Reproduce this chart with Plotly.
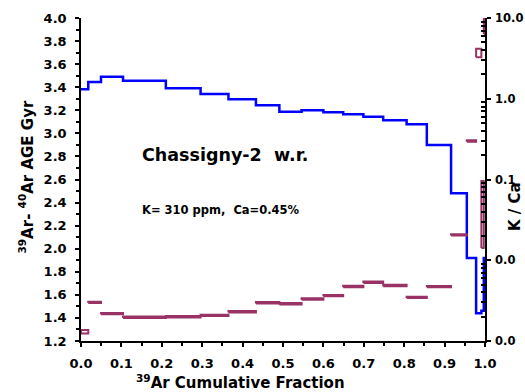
import plotly.graph_objects as go

# ---- data ----
step_bounds = [0, 0.018, 0.0495, 0.104, 0.210, 0.296, 0.365, 0.433, 0.491, 0.546,
               0.600, 0.649, 0.699, 0.748, 0.806, 0.856, 0.916, 0.955, 0.978,
               0.991, 0.997, 1.0]
ages_gyr = [3.382, 3.445, 3.491, 3.457, 3.391, 3.341, 3.295, 3.243, 3.188, 3.200,
            3.183, 3.165, 3.144, 3.113, 3.079, 2.899, 2.480, 1.920, 1.440, 1.463,
            1.920]
kca_low = [0.00124, 0.00295, 0.00214, 0.00193, 0.00196, 0.00204, 0.00226, 0.00292,
           0.00284, 0.00324, 0.00357, 0.00464, 0.00522, 0.00477, 0.00340, 0.00462,
           0.0202, 0.294, 3.26, 0.0142, 6.34]
kca_high = [0.00137, 0.00307, 0.00222, 0.00201, 0.00204, 0.00212, 0.00236, 0.00304,
            0.00296, 0.00338, 0.00371, 0.00482, 0.00544, 0.00497, 0.00354, 0.00480,
            0.0210, 0.306, 4.17, 0.0957, 10.0]

x_ticks = [0.0, 0.1, 0.2, 0.3, 0.4, 0.5, 0.6, 0.7, 0.8, 0.9, 1.0]
x_ticklabels = ["0.0", "0.1", "0.2", "0.3", "0.4", "0.5", "0.6", "0.7", "0.8", "0.9", "1.0"]
age_ticks = [1.2, 1.4, 1.6, 1.8, 2.0, 2.2, 2.4, 2.6, 2.8, 3.0, 3.2, 3.4, 3.6, 3.8, 4.0]
age_ticklabels = ["1.2", "1.4", "1.6", "1.8", "2.0", "2.2", "2.4", "2.6", "2.8",
                  "3.0", "3.2", "3.4", "3.6", "3.8", "4.0"]
kca_ticks = [0.001, 0.01, 0.1, 1, 10]
kca_ticklabels = ["0.0", "0.0", "0.1", "1.0", "10.0"]

BLUE = "#0000FF"
PLUM = "#993366"
FONT = "DejaVu Sans"

# ---- traces ----
fig = go.Figure()

# K/Ca boxes (one rectangle per step)
bx, by = [], []
for i in range(len(kca_low)):
    x0, x1 = step_bounds[i], step_bounds[i + 1]
    lo, hi = kca_low[i], kca_high[i]
    bx += [x0, x1, x1, x0, x0, None]
    by += [lo, lo, hi, hi, lo, None]
fig.add_trace(go.Scatter(x=bx, y=by, mode="lines", yaxis="y2",
                         line=dict(color=PLUM, width=2), hoverinfo="skip",
                         showlegend=False))

# age spectrum
fig.add_trace(go.Scatter(x=step_bounds, y=ages_gyr + [ages_gyr[-1]], mode="lines",
                         line=dict(color=BLUE, width=2.5, shape="hv"),
                         showlegend=False))

minor_log = [m * 10 ** e for e in range(-3, 1) for m in range(2, 10)]
tickfont = dict(family=FONT, size=13, color="black", weight="bold")
tickfont_r = dict(family=FONT, size=11.5, color="black", weight="bold")

fig.update_layout(
    width=525, height=392,
    margin=dict(l=81, r=40, t=18, b=51, autoexpand=False),
    paper_bgcolor="white", plot_bgcolor="white",
    font=dict(family=FONT, color="black"),
    showlegend=False,
    xaxis=dict(range=[0, 1], tickmode="array", tickvals=x_ticks, ticktext=x_ticklabels,
               ticks="outside", ticklen=4, tickwidth=1.5, tickcolor="black",
               minor=dict(dtick=0.05, tick0=0, ticks="outside", ticklen=3,
                          tickcolor="black", showgrid=False),
               showline=True, linecolor="black", linewidth=1.5, showgrid=False,
               zeroline=False, tickfont=tickfont, ticklabelstandoff=6,
               automargin=False),
    xaxis2=dict(range=[0, 1], overlaying="x", anchor="y", side="bottom",
                tickmode="array", tickvals=x_ticks, ticks="inside", ticklen=4,
                tickwidth=1.5, tickcolor="black",
                minor=dict(dtick=0.05, tick0=0, ticks="inside", ticklen=3,
                           tickcolor="black", showgrid=False),
                showticklabels=False, showline=False, showgrid=False, zeroline=False,
                automargin=False),
    xaxis3=dict(range=[0, 1], overlaying="x", anchor="y", side="top",
                showline=True, linecolor="#999999", linewidth=1, ticks="",
                showticklabels=False, showgrid=False, zeroline=False,
                automargin=False),
    yaxis=dict(range=[1.2, 4.0], tickmode="array", tickvals=age_ticks,
               ticktext=age_ticklabels, ticks="outside", ticklen=4, tickwidth=1.5,
               tickcolor="black",
               minor=dict(dtick=0.1, tick0=0, ticks="outside", ticklen=3,
                          tickcolor="black", showgrid=False),
               showline=True, linecolor="black", linewidth=1.5, showgrid=False,
               zeroline=False, tickfont=tickfont, ticklabelstandoff=6,
               automargin=False),
    yaxis3=dict(range=[1.2, 4.0], overlaying="y", anchor="x", side="left",
                tickmode="array", tickvals=age_ticks, ticks="inside", ticklen=4,
                tickwidth=1.5, tickcolor="black",
                minor=dict(dtick=0.1, tick0=0, ticks="inside", ticklen=3,
                           tickcolor="black", showgrid=False),
                showticklabels=False, showline=False, showgrid=False, zeroline=False,
                automargin=False),
    yaxis2=dict(type="log", range=[-3, 1], overlaying="y", anchor="x", side="right",
                tickmode="array", tickvals=kca_ticks, ticktext=kca_ticklabels,
                ticks="outside", ticklen=4, tickwidth=1.5, tickcolor="black",
                minor=dict(tickmode="array", tickvals=minor_log, ticks="inside",
                           ticklen=4, tickcolor="black", showgrid=False),
                showline=True, linecolor="black", linewidth=1.5, showgrid=False,
                zeroline=False, tickfont=tickfont_r, ticklabelstandoff=2,
                automargin=False),
    yaxis4=dict(type="log", range=[-3, 1], overlaying="y", anchor="x", side="right",
                tickmode="array", tickvals=kca_ticks, ticks="inside", ticklen=4,
                tickwidth=1.5, tickcolor="black", showticklabels=False,
                showline=False, showgrid=False, zeroline=False, automargin=False),
)

ann_font = dict(family=FONT, color="black")
fig.add_annotation(xref="paper", yref="paper", x=(26 - 81) / 404, y=(341 - 176.5) / 323,
                   text="<b><sup>39</sup>Ar- <sup>40</sup>Ar AGE Gyr</b>", textangle=-90,
                   showarrow=False, xanchor="center", yanchor="middle",
                   font=dict(size=15, **ann_font))
fig.add_annotation(xref="paper", yref="paper", x=(515 - 81) / 404, y=(341 - 207) / 323,
                   text="<b>K / Ca</b>", textangle=-90,
                   showarrow=False, xanchor="center", yanchor="middle",
                   font=dict(size=15, **ann_font))
fig.add_annotation(xref="paper", yref="paper", x=(240 - 81) / 404, y=(341 - 382) / 323,
                   text="<b><sup>39</sup>Ar Cumulative Fraction</b>",
                   showarrow=False, xanchor="center", yanchor="middle",
                   font=dict(size=15, **ann_font))
fig.add_annotation(xref="paper", yref="paper", x=(140 - 81) / 404, y=(341 - 155) / 323,
                   text="<b>Chassigny-2&nbsp;&nbsp;w.r.</b>",
                   showarrow=False, xanchor="left", yanchor="middle",
                   font=dict(size=17.5, **ann_font))
fig.add_annotation(xref="paper", yref="paper", x=(140 - 81) / 404, y=(341 - 210) / 323,
                   text="<b>K= 310 ppm,&nbsp;&nbsp;Ca=0.45%</b>",
                   showarrow=False, xanchor="left", yanchor="middle",
                   font=dict(size=11.5, **ann_font))

fig.write_html("out.html")
